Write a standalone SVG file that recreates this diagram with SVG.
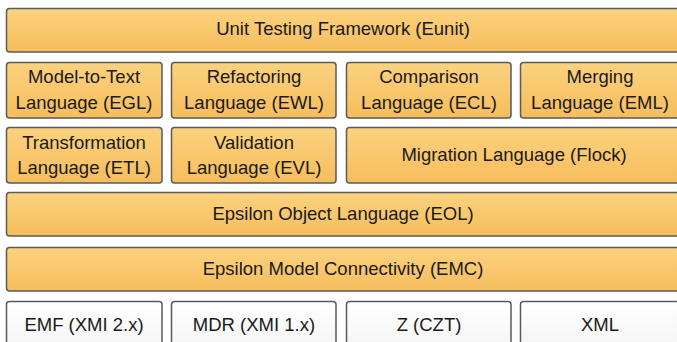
<svg xmlns="http://www.w3.org/2000/svg" width="677" height="342" viewBox="0 0 677 342">
<defs>
<linearGradient id="og" x1="0" y1="0" x2="0" y2="1">
<stop offset="0" stop-color="#fcd27f"/>
<stop offset="1" stop-color="#f6bd5c"/>
</linearGradient>
<linearGradient id="wg" x1="0" y1="0" x2="0" y2="1">
<stop offset="0" stop-color="#ffffff"/>
<stop offset="1" stop-color="#f3f3f3"/>
</linearGradient>
<style>
.o{fill:url(#og);stroke:#5a5a5a;stroke-width:1.5}
.w{fill:url(#wg);stroke:#5a5a5a;stroke-width:1.5}
text{font-family:"Liberation Sans",Arial,sans-serif;font-size:18.5px;fill:#1a1a1a;text-anchor:middle}
</style>
</defs>
<rect width="677" height="342" fill="#ffffff"/>
<g id="eunit"><rect class="o" x="6.5" y="8.5" width="674" height="43.5" rx="3"/><text x="343" y="35">Unit Testing Framework (Eunit)</text></g>
<g id="egl"><rect class="o" x="6.5" y="62.5" width="155.5" height="55.5" rx="3"/><text x="84" y="83">Model-to-Text</text><text x="84" y="108.5">Language (EGL)</text></g>
<g id="ewl"><rect class="o" x="171.5" y="62.5" width="164.5" height="55.5" rx="3"/><text x="254" y="83">Refactoring</text><text x="254" y="108.5">Language (EWL)</text></g>
<g id="ecl"><rect class="o" x="346.5" y="62.5" width="164.5" height="55.5" rx="3"/><text x="429" y="83">Comparison</text><text x="429" y="108.5">Language (ECL)</text></g>
<g id="eml"><rect class="o" x="520.5" y="62.5" width="160" height="55.5" rx="3"/><text x="600" y="83">Merging</text><text x="600" y="108.5">Language (EML)</text></g>
<g id="etl"><rect class="o" x="6.5" y="127.5" width="155.5" height="55.5" rx="3"/><text x="84" y="149">Transformation</text><text x="84" y="173.5">Language (ETL)</text></g>
<g id="evl"><rect class="o" x="171.5" y="127.5" width="164.5" height="55.5" rx="3"/><text x="254" y="149">Validation</text><text x="254" y="173.5">Language (EVL)</text></g>
<g id="flock"><rect class="o" x="346.5" y="127.5" width="334" height="55.5" rx="3"/><text x="514" y="161">Migration Language (Flock)</text></g>
<g id="eol"><rect class="o" x="6.5" y="192.5" width="674" height="43.5" rx="3"/><text x="343" y="220">Epsilon Object Language (EOL)</text></g>
<g id="emc"><rect class="o" x="6.5" y="247.5" width="674" height="43.5" rx="3"/><text x="343" y="275">Epsilon Model Connectivity (EMC)</text></g>
<g id="emf"><rect class="w" x="6.5" y="301.5" width="155.5" height="50" rx="3"/><text x="84" y="331">EMF (XMI 2.x)</text></g>
<g id="mdr"><rect class="w" x="171.5" y="301.5" width="164.5" height="50" rx="3"/><text x="254" y="331">MDR (XMI 1.x)</text></g>
<g id="z"><rect class="w" x="346.5" y="301.5" width="164.5" height="50" rx="3"/><text x="429" y="331">Z (CZT)</text></g>
<g id="xml"><rect class="w" x="520.5" y="301.5" width="160" height="50" rx="3"/><text x="600" y="331">XML</text></g>
<g id="connectors"/>
</svg>
